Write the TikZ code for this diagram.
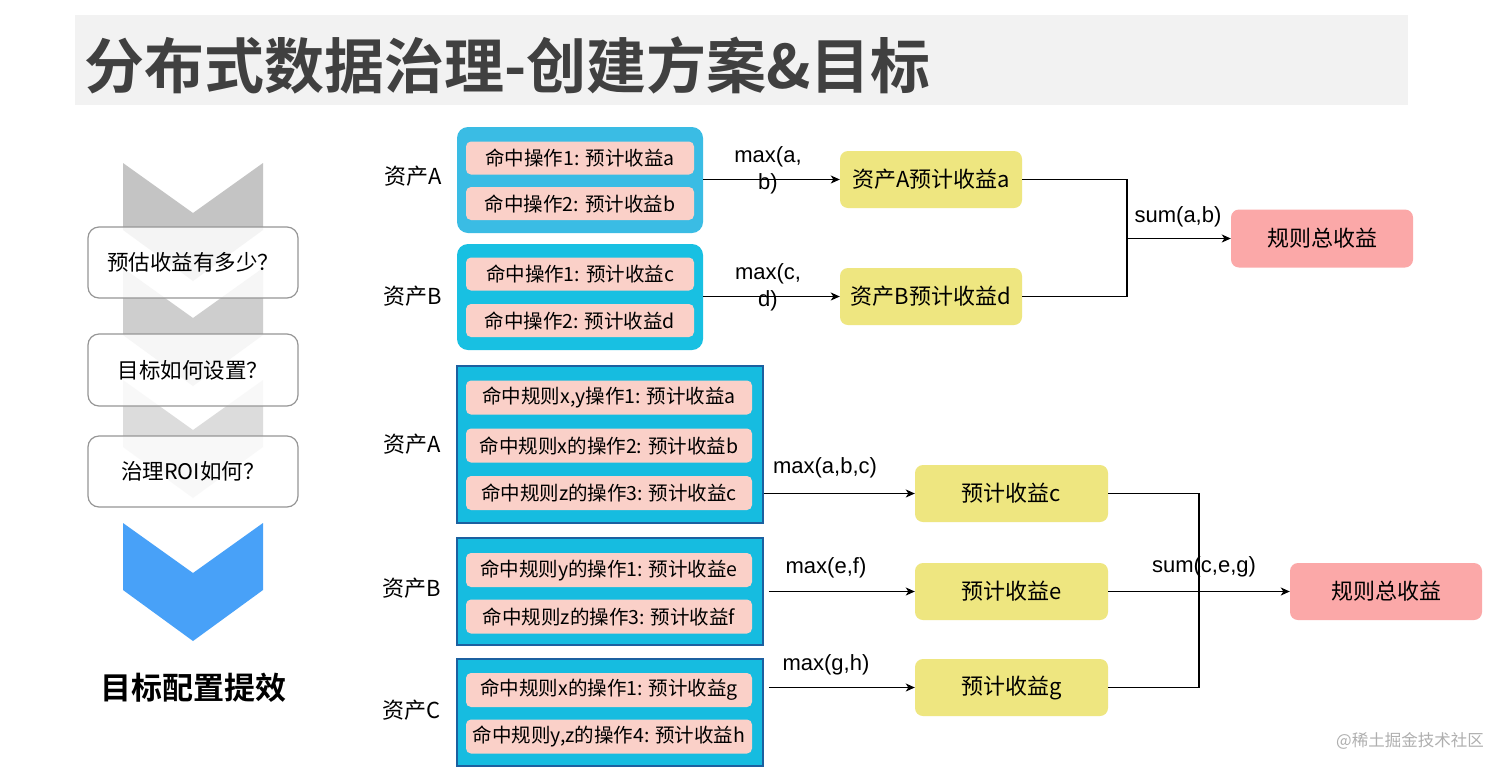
\documentclass[tikz,border=0pt]{standalone}
\usepackage{fontspec}
\setmainfont{Noto Sans CJK SC}[BoldFont={* Bold}]
\newfontfamily\latinfont{Liberation Sans}
\usetikzlibrary{arrows.meta}
\definecolor{titlebg}{RGB}{242,242,242}
\definecolor{titlefg}{RGB}{64,64,64}
\definecolor{chevA}{RGB}{196,196,196}
\definecolor{chevB}{RGB}{206,206,206}
\definecolor{chevC}{RGB}{220,220,220}
\definecolor{chevblue}{RGB}{72,161,248}
\definecolor{qborder}{RGB}{150,150,150}
\definecolor{topblueA}{RGB}{58,188,228}
\definecolor{topblueB}{RGB}{24,192,226}
\definecolor{botblue}{RGB}{22,188,224}
\definecolor{botborder}{RGB}{28,96,160}
\definecolor{pinkrow}{RGB}{250,208,200}
\definecolor{yellowbox}{RGB}{238,230,128}
\definecolor{redbox}{RGB}{251,168,168}
\definecolor{wmark}{RGB}{175,175,175}
\tikzset{
  qbox/.style={draw=qborder, line width=1.2pt, rounded corners=11pt, fill=white, fill opacity=0.82, text opacity=1, minimum width=210pt, inner sep=0pt, font=\fontsize{21.5}{26}\selectfont},
  topouter/.style={rounded corners=11pt, minimum width=246pt, minimum height=106pt, inner sep=0pt},
  botouter/.style={draw=botborder, line width=1.8pt, fill=botblue, minimum width=306pt, minimum height=107pt, inner sep=0pt},
  rowbox/.style={fill=pinkrow, rounded corners=5pt, minimum height=33pt, inner sep=0pt, font=\fontsize{19.5}{23}\selectfont},
  ybox/.style={fill=yellowbox, rounded corners=8pt, minimum height=57pt, inner sep=0pt, font=\fontsize{22}{26}\selectfont},
  rbox/.style={fill=redbox, rounded corners=8pt, minimum height=58pt, inner sep=0pt, font=\fontsize{22}{26}\selectfont},
  asset/.style={font=\fontsize{22}{26}\selectfont, inner sep=0pt},
  flabel/.style={font=\latinfont\fontsize{22}{27}\selectfont, inner sep=0pt, align=center},
  conn/.style={line width=1.4pt, -{Stealth[length=9pt,width=8pt,inset=2.5pt]}},
  plain/.style={line width=1.4pt},
}
\newcommand{\mychev}[2]{\fill[#2] (123,#1) -- (193,#1+50) -- (263,#1) -- (263,#1+67) -- (193,#1+118) -- (123,#1+67) -- cycle;}
\begin{document}
\begin{tikzpicture}[x=1pt,y=-1pt]
\useasboundingbox (0,0) rectangle (1512,772);
\fill[white] (0,0) rectangle (1512,772);
% title
\fill[titlebg] (75,15) rectangle (1408,105);
\node[anchor=west, inner sep=0pt, text=titlefg, font=\bfseries\fontsize{60}{68}\selectfont] (title) at (84,65) {分布式数据治理-创建方案\&目标};
% chevrons
\mychev{163}{chevA}
\mychev{268}{chevB}
\mychev{380}{chevC}
\mychev{523}{chevblue}
% question boxes
\node[qbox, minimum height=71pt] (q1) at (193,262.5) {预估收益有多少？};
\node[qbox, minimum height=72pt] (q2) at (193,370) {目标如何设置？};
\node[qbox, minimum height=71pt] (q3) at (193,471.5) {治理ROI如何？};
\node[inner sep=0pt, font=\bfseries\fontsize{31}{36}\selectfont] (goal) at (193,688) {目标配置提效};
% ---------- top section
\node[asset] (labA1) at (413,176) {资产A};
\node[asset] (labB1) at (413,296) {资产B};
\node[topouter, fill=topblueA] (tA) at (580,180) {};
\node[topouter, fill=topblueB] (tB) at (580,297) {};
\node[rowbox, minimum width=228pt] (tA1) at (580,158) {命中操作1: 预计收益a};
\node[rowbox, minimum width=228pt] (tA2) at (580,203.5) {命中操作2: 预计收益b};
\node[rowbox, minimum width=228pt] (tB1) at (580,274) {命中操作1: 预计收益c};
\node[rowbox, minimum width=228pt] (tB2) at (580,320.5) {命中操作2: 预计收益d};
\node[ybox, minimum width=182pt] (yA) at (931,179.5) {资产A预计收益a};
\node[ybox, minimum width=182pt] (yB) at (931,296.5) {资产B预计收益d};
\node[rbox, minimum width=182pt] (rT) at (1322,238.5) {规则总收益};
\coordinate (jT) at (1127,238.5);
\draw[conn] (tA.east |- yA.west) -- (yA.west);
\draw[conn] (tB.east |- yB.west) -- (yB.west);
\node[flabel] (mA) at (768,170) {max(a,\\b)};
\node[flabel] (mB) at (768,287) {max(c,\\d)};
\draw[plain] (yA.east) -| (jT) |- (yB.east);
\draw[conn] (jT) -- (rT.west);
\node[flabel] (sT) at (1178,217) {sum(a,b)};
% ---------- bottom section
\node[asset] (labA2) at (412,444) {资产A};
\node[asset] (labB2) at (412,588) {资产B};
\node[asset] (labC2) at (412,710) {资产C};
\node[botouter, minimum height=157pt] (bA) at (610,444.5) {};
\node[botouter] (bB) at (610,591.5) {};
\node[botouter] (bC) at (610,712.5) {};
\node[rowbox, minimum width=286pt, minimum height=34pt] (bA1) at (609,397.5) {命中规则x,y操作1: 预计收益a};
\node[rowbox, minimum width=286pt, minimum height=34pt] (bA2) at (609,445.5) {命中规则x的操作2: 预计收益b};
\node[rowbox, minimum width=286pt, minimum height=34pt] (bA3) at (609,493) {命中规则z的操作3: 预计收益c};
\node[rowbox, minimum width=286pt, minimum height=34pt] (bB1) at (609,570) {命中规则y的操作1: 预计收益e};
\node[rowbox, minimum width=286pt, minimum height=34pt] (bB2) at (609,616.5) {命中规则z的操作3: 预计收益f};
\node[rowbox, minimum width=286pt, minimum height=34pt] (bC1) at (609,690) {命中规则x的操作1: 预计收益g};
\node[rowbox, minimum width=286pt, minimum height=34pt] (bC2) at (609,736.5) {命中规则y,z的操作4: 预计收益h};
\node[ybox, minimum width=193pt] (yc) at (1011.5,493.5) {预计收益c};
\node[ybox, minimum width=193pt] (ye) at (1011.5,591.5) {预计收益e};
\node[ybox, minimum width=193pt] (yg) at (1011.5,687.5) {预计收益g};
\node[rbox, minimum width=192pt, minimum height=57pt] (rB) at (1386,591.5) {规则总收益};
\coordinate (jB) at (1199,591.5);
\draw[conn] (bA.east |- yc.west) -- (yc.west);
\draw[conn, shorten <=5pt] (bB.east |- ye.west) -- (ye.west);
\draw[conn, shorten <=5pt] (bC.east |- yg.west) -- (yg.west);
\node[flabel] (mc) at (825,468) {max(a,b,c)};
\node[flabel] (me) at (826,568) {max(e,f)};
\node[flabel] (mg) at (826,665) {max(g,h)};
\draw[plain] (yc.east) -| (jB) |- (yg.east);
\draw[conn] (ye.east) -- (rB.west);
\node[flabel] (sB) at (1204,567) {sum(c,e,g)};
% watermark
\node[inner sep=0pt, text=wmark, font=\fontsize{16.5}{20}\selectfont] (wm) at (1410,741) {@稀土掘金技术社区};
\end{tikzpicture}
\end{document}
